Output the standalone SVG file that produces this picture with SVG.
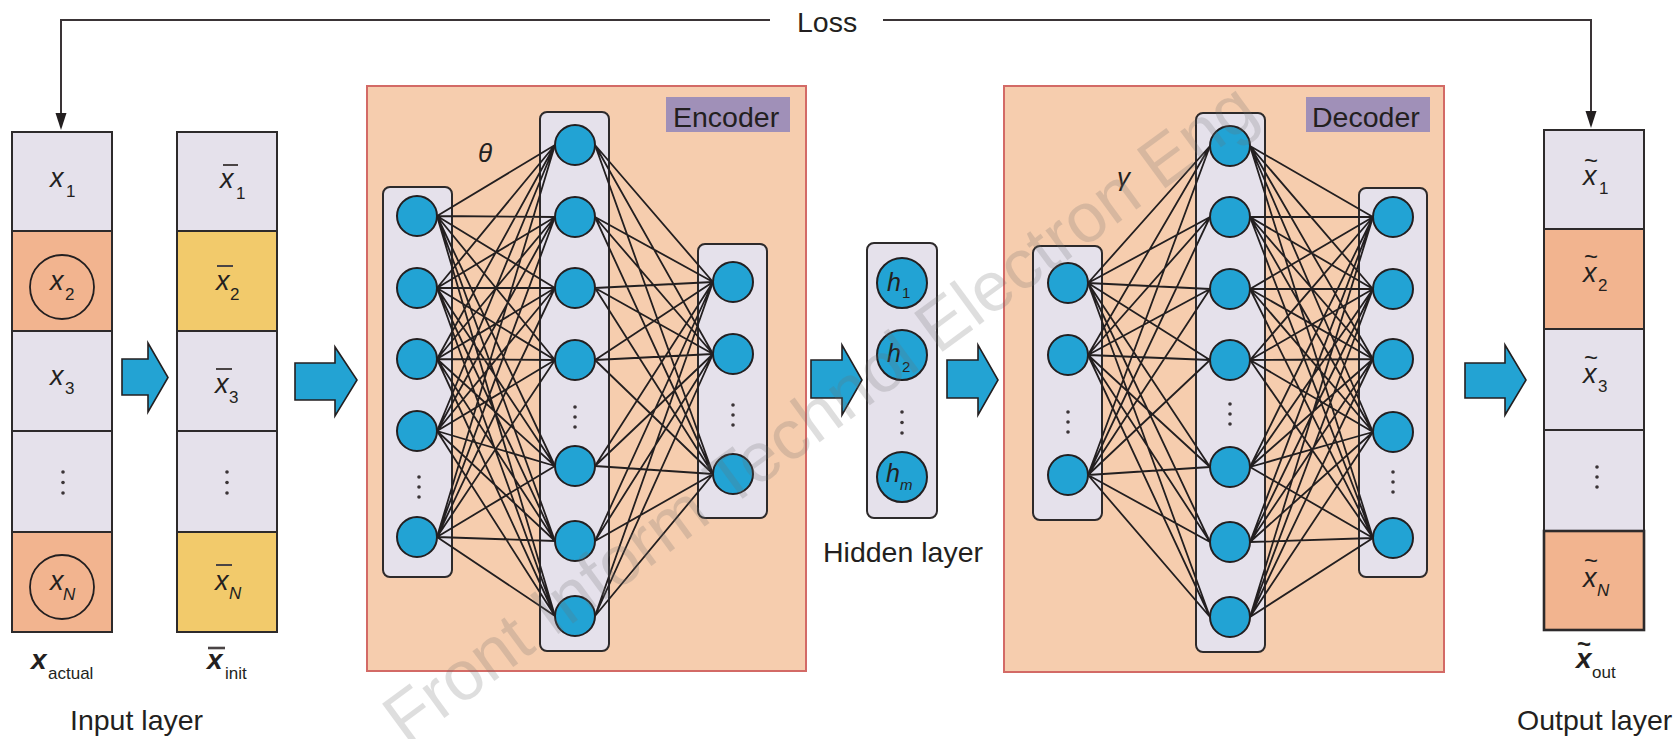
<svg xmlns="http://www.w3.org/2000/svg" width="1678" height="739" viewBox="0 0 1678 739">
<defs>
<style>
text{font-family:"Liberation Sans",Arial,sans-serif;fill:#231f20}
.lbl{font-size:28.5px}
.mx{font-size:27px;font-style:italic}
.sb{font-size:17px}
.sbi{font-size:17px;font-style:italic}
.hx{font-size:25px;font-style:italic}
.hs{font-size:15px}
.hsi{font-size:15px;font-style:italic}
.bx{font-size:28px;font-style:italic;font-weight:bold}
.bs{font-size:17px}
.tl{font-size:24px}
.gk{font-size:26px;font-style:italic}
.lav{fill:#e5e1eb;stroke:#2d2a2b;stroke-width:2}
.sal{fill:#f2b48f;stroke:#2d2a2b;stroke-width:2}
.yel{fill:#f2ca6b;stroke:#2d2a2b;stroke-width:2}
.ring{fill:none;stroke:#231f20;stroke-width:1.8}
.bar{stroke:#4a4445;stroke-width:2}
.panel{fill:#f6cdae;stroke:#d36a66;stroke-width:2}
.tag{fill:#a090b8}
.lay{fill:#e5e1eb;stroke:#2d2a2b;stroke-width:2}
.nd{fill:#22a3d4;stroke:#231f20;stroke-width:2}
.dot{fill:#3a3436}
.blk{fill:#23a3d3;stroke:#231f20;stroke-width:1.6;stroke-linejoin:miter}
.wire{fill:none;stroke:#231f20;stroke-width:1.8}
.loss{fill:none;stroke:#3a3436;stroke-width:2}
</style>
</defs>
<rect width="1678" height="739" fill="#ffffff"/>

<g id="loss">
<path class="loss" d="M770 20H61V114"/>
<path d="M55.5 113L66.5 113L61 130Z" fill="#231f20"/>
<path class="loss" d="M883 20H1591V112"/>
<path d="M1585.5 111L1596.5 111L1591 128Z" fill="#231f20"/>
<text class="lbl" x="797" y="32">Loss</text>
</g>

<g id="input-actual">
<rect class="lav" x="12" y="132" width="100" height="99"/>
<rect class="sal" x="12" y="231" width="100" height="100"/>
<rect class="lav" x="12" y="331" width="100" height="100"/>
<rect class="lav" x="12" y="431" width="100" height="101"/>
<rect class="sal" x="12" y="532" width="100" height="100"/>
<circle class="ring" cx="62" cy="287" r="32"/>
<circle class="ring" cx="62" cy="587" r="32"/>
<text class="mx" x="50" y="187">x</text><text class="sb" x="66" y="197">1</text>
<text class="mx" x="50" y="290">x</text><text class="sb" x="65" y="300">2</text>
<text class="mx" x="50" y="385">x</text><text class="sb" x="65" y="394">3</text>
<circle class="dot" cx="63" cy="472" r="1.8"/><circle class="dot" cx="63" cy="482.5" r="1.8"/><circle class="dot" cx="63" cy="493" r="1.8"/>
<text class="mx" x="50" y="590">x</text><text class="sbi" x="63" y="600">N</text>
<text class="bx" x="31" y="669">x</text><text class="bs" x="48" y="679">actual</text>
</g>

<g id="input-init">
<rect class="lav" x="177" y="132" width="100" height="99"/>
<rect class="yel" x="177" y="231" width="100" height="100"/>
<rect class="lav" x="177" y="331" width="100" height="100"/>
<rect class="lav" x="177" y="431" width="100" height="101"/>
<rect class="yel" x="177" y="532" width="100" height="100"/>
<line class="bar" x1="223" y1="165" x2="238" y2="165"/>
<text class="mx" x="220" y="188">x</text><text class="sb" x="236" y="199">1</text>
<line class="bar" x1="217" y1="266" x2="233" y2="266"/>
<text class="mx" x="216" y="290">x</text><text class="sb" x="230" y="300">2</text>
<line class="bar" x1="216" y1="369" x2="232" y2="369"/>
<text class="mx" x="215" y="393">x</text><text class="sb" x="229" y="403">3</text>
<circle class="dot" cx="227" cy="472" r="1.8"/><circle class="dot" cx="227" cy="482.5" r="1.8"/><circle class="dot" cx="227" cy="493" r="1.8"/>
<line class="bar" x1="216" y1="565" x2="232" y2="565"/>
<text class="mx" x="215" y="590">x</text><text class="sbi" x="229" y="599">N</text>
<line class="bar" x1="208" y1="648" x2="225" y2="648" style="stroke-width:2.6"/>
<text class="bx" x="207" y="669">x</text><text class="bs" x="225" y="679">init</text>
<text class="lbl" x="70" y="730">Input layer</text>
</g>

<g id="arrows">
<path class="blk" d="M122 359H148V343L168 377.5L148 412V395H122Z"/>
<path class="blk" d="M295 363H335V347L357 380L335 416V400H295Z"/>
<path class="blk" d="M811 360H842V345L862 380L842 415V398H811Z"/>
<path class="blk" d="M947 360H978V345L998 380L978 415V398H947Z"/>
<path class="blk" d="M1465 363H1505V345L1526 380L1505 415V398H1465Z"/>
</g>

<g id="encoder">
<rect class="panel" x="367" y="86" width="439" height="585"/>
<rect class="tag" x="666" y="97" width="124" height="35"/>
<text class="lbl" x="673" y="127">Encoder</text>
<text class="gk" x="478" y="162">θ</text>
<rect class="lay" x="383" y="187" width="69" height="390" rx="7"/>
<rect class="lay" x="540" y="112" width="69" height="539" rx="7"/>
<rect class="lay" x="698" y="244" width="69" height="274" rx="7"/>
</g>

<g id="decoder">
<rect class="panel" x="1004" y="86" width="440" height="586"/>
<rect class="tag" x="1306" y="97" width="124" height="35"/>
<text class="lbl" x="1312" y="127">Decoder</text>
<text class="gk" x="1117" y="186">γ</text>
<rect class="lay" x="1033" y="246" width="69" height="274" rx="7"/>
<rect class="lay" x="1196" y="113" width="69" height="539" rx="7"/>
<rect class="lay" x="1359" y="188" width="68" height="389" rx="7"/>
</g>

<g id="connectors">
<path class="wire" d="M437 216L555 145M437 216L555 217M437 216L555 288M437 216L555 360M437 216L555 466M437 216L555 541M437 216L555 616
M437 288L555 145M437 288L555 217M437 288L555 288M437 288L555 360M437 288L555 466M437 288L555 541M437 288L555 616
M437 359L555 145M437 359L555 217M437 359L555 288M437 359L555 360M437 359L555 466M437 359L555 541M437 359L555 616
M437 431L555 145M437 431L555 217M437 431L555 288M437 431L555 360M437 431L555 466M437 431L555 541M437 431L555 616
M437 537L555 145M437 537L555 217M437 537L555 288M437 537L555 360M437 537L555 466M437 537L555 541M437 537L555 616"/>
<path class="wire" d="M595 145L713 282M595 145L713 354M595 145L713 474
M595 217L713 282M595 217L713 354M595 217L713 474
M595 288L713 282M595 288L713 354M595 288L713 474
M595 360L713 282M595 360L713 354M595 360L713 474
M595 466L713 282M595 466L713 354M595 466L713 474
M595 541L713 282M595 541L713 354M595 541L713 474
M595 616L713 282M595 616L713 354M595 616L713 474"/>
<path class="wire" d="M1088 283L1210 146M1088 283L1210 217M1088 283L1210 289M1088 283L1210 360M1088 283L1210 467M1088 283L1210 542M1088 283L1210 617
M1088 355L1210 146M1088 355L1210 217M1088 355L1210 289M1088 355L1210 360M1088 355L1210 467M1088 355L1210 542M1088 355L1210 617
M1088 475L1210 146M1088 475L1210 217M1088 475L1210 289M1088 475L1210 360M1088 475L1210 467M1088 475L1210 542M1088 475L1210 617"/>
<path class="wire" d="M1250 146L1373 217M1250 146L1373 289M1250 146L1373 359M1250 146L1373 432M1250 146L1373 538
M1250 217L1373 217M1250 217L1373 289M1250 217L1373 359M1250 217L1373 432M1250 217L1373 538
M1250 289L1373 217M1250 289L1373 289M1250 289L1373 359M1250 289L1373 432M1250 289L1373 538
M1250 360L1373 217M1250 360L1373 289M1250 360L1373 359M1250 360L1373 432M1250 360L1373 538
M1250 467L1373 217M1250 467L1373 289M1250 467L1373 359M1250 467L1373 432M1250 467L1373 538
M1250 542L1373 217M1250 542L1373 289M1250 542L1373 359M1250 542L1373 432M1250 542L1373 538
M1250 617L1373 217M1250 617L1373 289M1250 617L1373 359M1250 617L1373 432M1250 617L1373 538"/>
</g>

<g id="enc-nodes">
<circle class="nd" cx="417" cy="216" r="20"/><circle class="nd" cx="417" cy="288" r="20"/><circle class="nd" cx="417" cy="359" r="20"/><circle class="nd" cx="417" cy="431" r="20"/><circle class="nd" cx="417" cy="537" r="20"/>
<circle class="dot" cx="419" cy="477" r="1.8"/><circle class="dot" cx="419" cy="487" r="1.8"/><circle class="dot" cx="419" cy="497" r="1.8"/>
<circle class="nd" cx="575" cy="145" r="20"/><circle class="nd" cx="575" cy="217" r="20"/><circle class="nd" cx="575" cy="288" r="20"/><circle class="nd" cx="575" cy="360" r="20"/><circle class="nd" cx="575" cy="466" r="20"/><circle class="nd" cx="575" cy="541" r="20"/><circle class="nd" cx="575" cy="616" r="20"/>
<circle class="dot" cx="575" cy="407" r="1.8"/><circle class="dot" cx="575" cy="417" r="1.8"/><circle class="dot" cx="575" cy="427" r="1.8"/>
<circle class="nd" cx="733" cy="282" r="20"/><circle class="nd" cx="733" cy="354" r="20"/><circle class="nd" cx="733" cy="474" r="20"/>
<circle class="dot" cx="733" cy="405" r="1.8"/><circle class="dot" cx="733" cy="415" r="1.8"/><circle class="dot" cx="733" cy="425" r="1.8"/>
</g>

<g id="hidden">
<rect class="lay" x="867" y="243" width="70" height="275" rx="7"/>
<circle class="nd" cx="902" cy="283" r="25"/><circle class="nd" cx="902" cy="355" r="25"/><circle class="nd" cx="902" cy="477" r="25"/>
<circle class="dot" cx="902" cy="412" r="1.8"/><circle class="dot" cx="902" cy="422.5" r="1.8"/><circle class="dot" cx="902" cy="433" r="1.8"/>
<text class="hx" x="887" y="291">h</text><text class="hs" x="902" y="298">1</text>
<text class="hx" x="887" y="362">h</text><text class="hs" x="902" y="372">2</text>
<text class="hx" x="886" y="482">h</text><text class="hsi" x="900" y="490">m</text>
<text class="lbl" x="823" y="562">Hidden layer</text>
</g>

<g id="dec-nodes">
<circle class="nd" cx="1068" cy="283" r="20"/><circle class="nd" cx="1068" cy="355" r="20"/><circle class="nd" cx="1068" cy="475" r="20"/>
<circle class="dot" cx="1068" cy="412" r="1.8"/><circle class="dot" cx="1068" cy="422" r="1.8"/><circle class="dot" cx="1068" cy="432" r="1.8"/>
<circle class="nd" cx="1230" cy="146" r="20"/><circle class="nd" cx="1230" cy="217" r="20"/><circle class="nd" cx="1230" cy="289" r="20"/><circle class="nd" cx="1230" cy="360" r="20"/><circle class="nd" cx="1230" cy="467" r="20"/><circle class="nd" cx="1230" cy="542" r="20"/><circle class="nd" cx="1230" cy="617" r="20"/>
<circle class="dot" cx="1230" cy="404" r="1.8"/><circle class="dot" cx="1230" cy="414" r="1.8"/><circle class="dot" cx="1230" cy="424" r="1.8"/>
<circle class="nd" cx="1393" cy="217" r="20"/><circle class="nd" cx="1393" cy="289" r="20"/><circle class="nd" cx="1393" cy="359" r="20"/><circle class="nd" cx="1393" cy="432" r="20"/><circle class="nd" cx="1393" cy="538" r="20"/>
<circle class="dot" cx="1393" cy="472" r="1.8"/><circle class="dot" cx="1393" cy="482" r="1.8"/><circle class="dot" cx="1393" cy="492" r="1.8"/>
</g>

<g id="output">
<rect class="lav" x="1544" y="130" width="100" height="99"/>
<rect class="sal" x="1544" y="229" width="100" height="100"/>
<rect class="lav" x="1544" y="329" width="100" height="101"/>
<rect class="lav" x="1544" y="430" width="100" height="101"/>
<rect class="sal" x="1544" y="531" width="100" height="99" style="stroke-width:2.6"/>
<text class="tl" x="1584" y="169">~</text>
<text class="mx" x="1583" y="185">x</text><text class="sb" x="1599" y="194">1</text>
<text class="tl" x="1584" y="265">~</text>
<text class="mx" x="1583" y="282">x</text><text class="sb" x="1598" y="291">2</text>
<text class="tl" x="1584" y="366">~</text>
<text class="mx" x="1583" y="383">x</text><text class="sb" x="1598" y="392">3</text>
<circle class="dot" cx="1597" cy="467" r="1.8"/><circle class="dot" cx="1597" cy="477" r="1.8"/><circle class="dot" cx="1597" cy="487" r="1.8"/>
<text class="tl" x="1584" y="569">~</text>
<text class="mx" x="1583" y="587">x</text><text class="sbi" x="1597" y="596">N</text>
<text class="tl" x="1577" y="652" style="font-weight:bold">~</text>
<text class="bx" x="1576" y="668">x</text><text class="bs" x="1592" y="678">out</text>
<text class="lbl" x="1517" y="730">Output layer</text>
</g>

<g id="watermark" opacity="0.22">
<text x="0" y="0" transform="translate(406 746) rotate(-36.3)" style="font-size:70px;fill:#6e6e6e">Front Inform Technol Electron Eng</text>
</g>
</svg>
